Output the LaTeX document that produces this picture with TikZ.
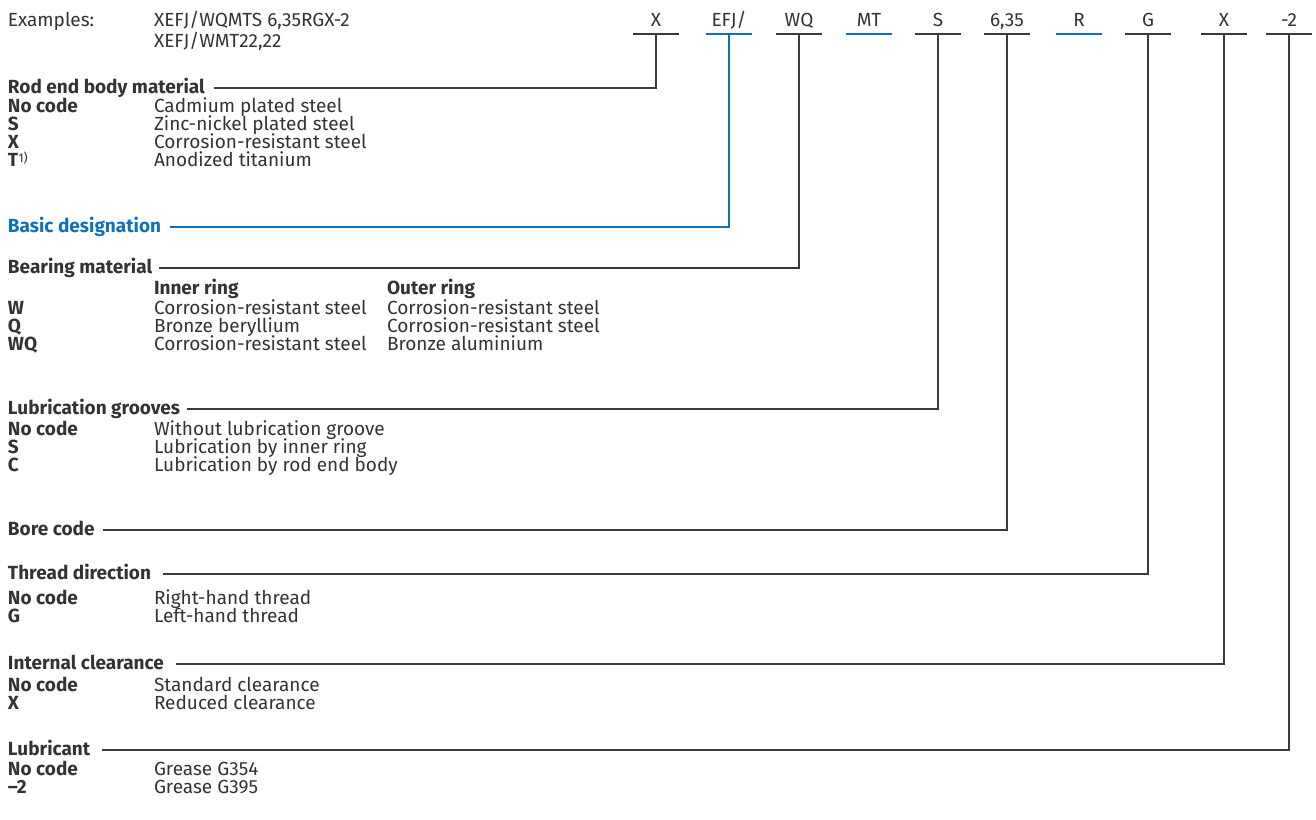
\documentclass[tikz,border=0pt]{standalone}
\usepackage{fontspec}
\setmainfont{Fira Sans}
\definecolor{txt}{HTML}{333333}
\definecolor{lin}{HTML}{3A3A3A}
\definecolor{skfblue}{HTML}{1070BE}
\newcommand{\fs}{\fontsize{19}{21}\selectfont}
\begin{document}
\begin{tikzpicture}[x=1pt,y=-1pt,
  every node/.style={inner sep=0pt,outer sep=0pt,text=txt,font=\fs},
  lbl/.style={anchor=base west},
  hdr/.style={anchor=base west,font=\fs\bfseries},
  key/.style={anchor=base west,font=\fs\bfseries},
  code/.style={anchor=base,minimum width=46pt,text depth=7pt},
  bar/.style={draw=lin,line width=1.3pt},
  bluebar/.style={draw=skfblue,line width=2pt},
  conn/.style={draw=lin,line width=1.1pt},
  blueconn/.style={draw=skfblue,line width=2pt}]
\useasboundingbox (0,0) rectangle (1316,819);

% examples
\node[lbl] (ex) at (8,27) {Examples:};
\node[lbl] (ex1) at (154,27) {XEFJ/WQMTS 6,35RGX-2};
\node[lbl] (ex2) at (154,47) {XEFJ/WMT22,22};

% code row
\node[code] (cX) at (656,27) {X};
\node[code] (cEFJ) at (729,27) {EFJ/};
\node[code] (cWQ) at (799,27) {WQ};
\node[code] (cMT) at (869,27) {MT};
\node[code] (cS) at (938,27) {S};
\node[code] (cB) at (1007,27) {6,35};
\node[code] (cR) at (1079,27) {R};
\node[code] (cG) at (1148,27) {G};
\node[code] (cX2) at (1224,27) {X};
\node[code] (cL) at (1289,27) {-2};
\foreach \n in {cX,cWQ,cS,cB,cG,cX2,cL}
  \draw[bar] (\n.south west) -- (\n.south east);
\foreach \n in {cEFJ,cMT,cR}
  \draw[bluebar] (\n.south west) -- (\n.south east);

% Rod end body material
\node[hdr] (hRod) at (8,93) {Rod end body material};
\node[key] (r1k) at (8,112) {No code};
\node[lbl] (r1v) at (154,112) {Cadmium plated steel};
\node[key] (r2k) at (8,130) {S};
\node[lbl] (r2v) at (154,130) {Zinc-nickel plated steel};
\node[key] (r3k) at (8,148) {X};
\node[lbl] (r3v) at (154,148) {Corrosion-resistant steel};
\node[key] (r4k) at (8,166) {T\raisebox{4pt}{\fontsize{12.5}{12.5}\selectfont\mdseries 1)}};
\node[lbl] (r4v) at (154,166) {Anodized titanium};
\draw[conn] (hRod.base east) ++(9,-5) -| (cX.south);

% Basic designation
\node[hdr,text=skfblue] (hBasic) at (8,232) {Basic designation};
\draw[blueconn] (hBasic.base east) ++(9,-5) -| (cEFJ.south);

% Bearing material
\node[hdr] (hBear) at (8,273) {Bearing material};
\node[key] (bIn) at (154,294) {Inner ring};
\node[key] (bOut) at (387,294) {Outer ring};
\node[key] (b1k) at (8,314) {W};
\node[lbl] (b1i) at (154,314) {Corrosion-resistant steel};
\node[lbl] (b1o) at (387,314) {Corrosion-resistant steel};
\node[key] (b2k) at (8,332) {Q};
\node[lbl] (b2i) at (154,332) {Bronze beryllium};
\node[lbl] (b2o) at (387,332) {Corrosion-resistant steel};
\node[key] (b3k) at (8,350) {WQ};
\node[lbl] (b3i) at (154,350) {Corrosion-resistant steel};
\node[lbl] (b3o) at (387,350) {Bronze aluminium};
\draw[conn] (hBear.base east) ++(7,-5) -| (cWQ.south);

% Lubrication grooves
\node[hdr] (hGr) at (8,414) {Lubrication grooves};
\node[key] (g1k) at (8,435) {No code};
\node[lbl] (g1v) at (154,435) {Without lubrication groove};
\node[key] (g2k) at (8,453) {S};
\node[lbl] (g2v) at (154,453) {Lubrication by inner ring};
\node[key] (g3k) at (8,471) {C};
\node[lbl] (g3v) at (154,471) {Lubrication by rod end body};
\draw[conn] (hGr.base east) ++(7,-5) -| (cS.south);

% Bore code
\node[hdr] (hBore) at (8,535) {Bore code};
\draw[conn] (hBore.base east) ++(8,-5) -| (cB.south);

% Thread direction
\node[hdr] (hTh) at (8,579) {Thread direction};
\node[key] (t1k) at (8,604) {No code};
\node[lbl] (t1v) at (154,604) {Right-hand thread};
\node[key] (t2k) at (8,622) {G};
\node[lbl] (t2v) at (154,622) {Left-hand thread};
\draw[conn] (hTh.base east) ++(12,-5) -| (cG.south);

% Internal clearance
\node[hdr] (hCl) at (8,669) {Internal clearance};
\node[key] (c1k) at (8,691) {No code};
\node[lbl] (c1v) at (154,691) {Standard clearance};
\node[key] (c2k) at (8,709) {X};
\node[lbl] (c2v) at (154,709) {Reduced clearance};
\draw[conn] (hCl.base east) ++(12,-5) -| (cX2.south);

% Lubricant
\node[hdr] (hLub) at (8,755) {Lubricant};
\node[key] (l1k) at (8,775) {No code};
\node[lbl] (l1v) at (154,775) {Grease G354};
\node[key] (l2k) at (8,793) {--2};
\node[lbl] (l2v) at (154,793) {Grease G395};
\draw[conn] (hLub.base east) ++(12,-5) -| (cL.south);
\end{tikzpicture}
\end{document}
